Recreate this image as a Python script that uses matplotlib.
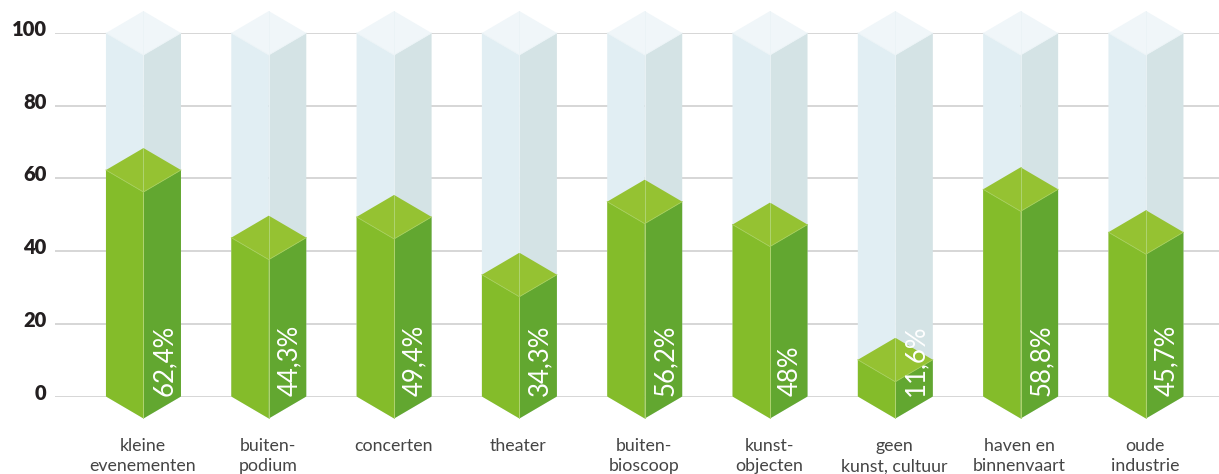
import matplotlib
matplotlib.use("Agg")
import matplotlib.pyplot as plt
from matplotlib.transforms import ScaledTranslation

categories = ['kleine\nevenementen', 'buiten-\npodium', 'concerten', 'theater', 'buiten-\nbioscoop',
              'kunst-\nobjecten', 'geen\nkunst, cultuur', 'haven en\nbinnenvaart', 'oude\nindustrie']
# the printed percentages do not always match the drawn heights, so keep both
labels = ['62,4%', '44,3%', '49,4%', '34,3%', '56,2%', '48%', '11,6%', '58,8%', '45,7%']
heights = [62.3, 43.7, 49.4, 33.5, 53.6, 47.3, 10.1, 57.0, 45.2]
yticks = [0, 20, 40, 60, 80, 100]

W, H = 1219, 474
half = 0.2993   # half a bar in category units
depth = 6.05    # drop of the isometric corner in value units

plt.rcParams['font.family'] = ['Lato', 'DejaVu Sans']

fig = plt.figure(figsize=(W / 100, H / 100), dpi=100)
ax = fig.add_axes([55 / W, (H - 396.5) / H, (W - 55) / W, 363.5 / H])
ax.set_xlim(-0.706, 8.583)
ax.set_ylim(0, 100)
for s in ax.spines.values():
    s.set_visible(False)
ax.set_axisbelow(True)
ax.yaxis.grid(True, color='#cfcfcf', linewidth=1.2)
ax.set_yticks(yticks)
ax.set_xticks(range(len(categories)))
ax.set_xticklabels(categories, fontsize=12.8, color='#454545', linespacing=1.32)
ax.tick_params(axis='x', length=0, pad=30)
ax.tick_params(axis='y', length=0, pad=6, labelsize=14.5, labelcolor='#231f20')
# the numbers sit just above their grid lines
lift = ScaledTranslation(0, 5 / 100, fig.dpi_scale_trans)
for t in ax.get_yticklabels():
    t.set_fontweight('heavy')
    t.set_transform(t.get_transform() + lift)
nudge = ScaledTranslation(-1 / 100, 0, fig.dpi_scale_trans)
for t in ax.get_xticklabels():
    t.set_transform(t.get_transform() + nudge)


def draw_block(x, top, front, side, cap, seam):
    # front and side faces plus the diamond on top
    ax.fill([x - half, x, x, x - half], [0, -depth, top - depth, top], color=front, lw=0, clip_on=False)
    ax.fill([x, x + half, x + half, x], [-depth, 0, top, top - depth], color=side, lw=0, clip_on=False)
    ax.fill([x - half, x, x + half, x], [top, top - depth, top, top + depth], color=cap, lw=0, clip_on=False)
    ax.plot([x, x], [-depth, top - depth], color=seam, lw=0.6, clip_on=False)
    ax.plot([x - half, x, x + half], [top, top - depth, top], color=seam, lw=0.6, clip_on=False)
    ax.plot([x, x], [top - depth, top + depth], color=seam, lw=0.6, clip_on=False)


for i, (h, lab) in enumerate(zip(heights, labels)):
    draw_block(i, 100, '#e1eef3', '#d4e3e5', '#f0f6f9', '#ebf3f6')
    draw_block(i, h, '#84bc2a', '#62a730', '#95c232', '#a6cf5a')
    ax.text(i + 0.165, 0.2, lab, rotation=90, ha='center', va='bottom', color='white',
            fontsize=18.5, fontweight='normal', clip_on=False)

fig.savefig('out.png', dpi=100)
